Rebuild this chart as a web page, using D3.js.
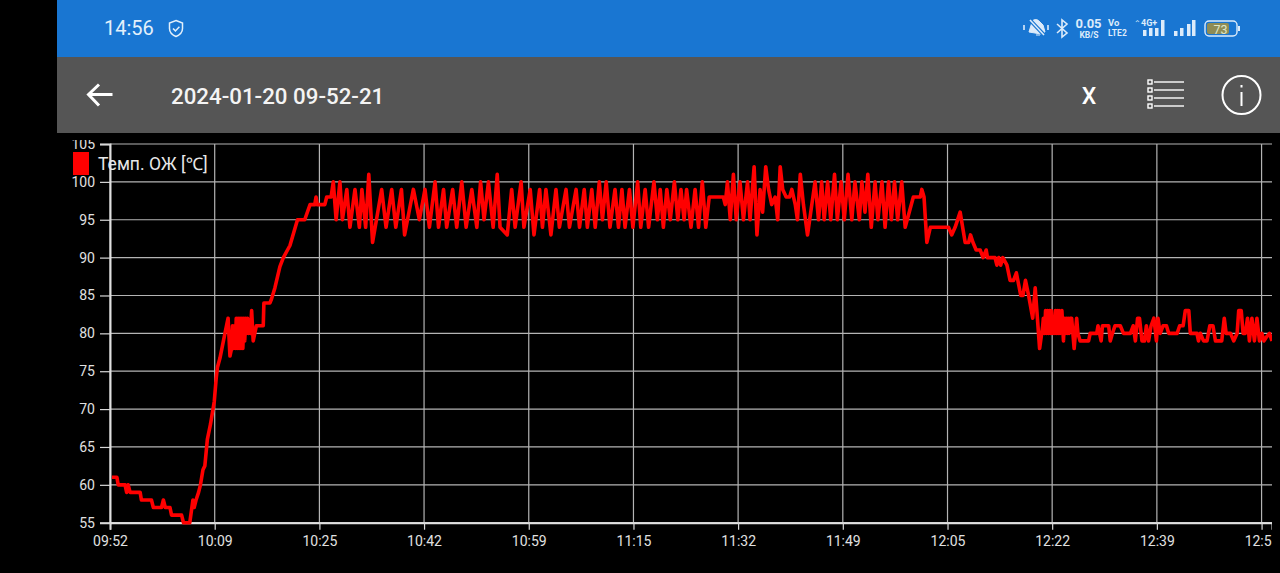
<!DOCTYPE html>
<html><head><meta charset="utf-8">
<script src="https://cdn.jsdelivr.net/npm/d3@7/dist/d3.min.js"></script>
<style>
html,body{margin:0;padding:0;background:#000;overflow:hidden}
svg{display:block}
text{font-family:Roboto,"Noto Sans",sans-serif}
</style></head><body>
<svg id="c" width="1280" height="573"></svg>
<script>
const titleText = "2024-01-20 09-52-21";
const legendLabel = "Темп. ОЖ [℃]";
const xTickLabels = ["09:52","10:09","10:25","10:42","10:59","11:15","11:32","11:49","12:05","12:22","12:39","12:55"];
const xTickMinutes = [0,16.67,33.34,50,66.67,83.34,100,116.67,133.34,150,166.67,183.34];
const yTicks = [55,60,65,70,75,80,85,90,95,100,105];
// [minutes since 09:52, coolant temperature]
const coldStart = [[0.3,61],[1.1,61],[1.3,60],[2.4,60],[2.65,59],[2.9,60],[3.2,59],[4.8,59],[5,58],[6.6,58],[6.9,57],[8.2,57],[8.5,58],[8.8,57],[9.55,57],[9.8,56],[11.4,56],[11.7,55],[12.7,55]];
const warmUp = [[13.2,58],[13.4,57],[13.7,58],[14.1,59],[14.4,60],[14.8,62],[15.1,62.5],[15.5,66],[16,68],[16.6,71],[16.9,74],[17.1,75.5],[17.5,76.7],[18.3,80],[18.8,82],[19.1,77],[19.35,78],[19.5,81],[19.65,78],[19.8,81],[19.95,78],[20.1,82],[20.25,78],[20.4,82],[20.55,78],[20.7,82],[20.85,78],[21,82],[21.15,78],[21.3,82],[21.45,79],[21.6,82],[21.75,80],[21.9,82],[22.05,80],[22.2,81],[22.35,80],[22.55,83],[22.8,79],[23.3,81],[24.4,81],[24.5,84],[25.45,84],[25.7,84.5],[26.25,86],[27.05,88.8],[27.6,90],[28.65,91.6],[29.85,95],[31,95],[31.85,97],[32.6,97],[32.8,98],[33,97],[34.2,97],[34.5,98],[35.2,98]];
const cruiseA = [[35.55,100],[36,95],[36.6,100],[37,95],[37.7,99],[38.2,94],[39,99],[39.7,94],[40.1,99],[40.7,94],[41.2,101],[41.8,92],[43.25,99],[43.95,94],[44.85,99],[45.5,94],[46.4,99],[46.9,93],[48.3,99],[49.25,95],[50.15,99],[50.85,94],[51.75,100],[52.3,94],[53.1,99],[53.6,94],[54.55,99],[55.2,94],[56,100],[56.7,94],[57.6,99],[58.4,94],[59,100],[59.55,95],[60.25,100],[61,94],[61.65,101],[62.1,94],[63.25,93]];
const cruiseB = [[63.95,99],[64.5,94],[65.45,100],[65.9,94],[66.9,99],[67.5,93],[68.4,99],[68.85,94],[69.4,99],[70.2,93],[71,99],[71.55,94],[72.6,99],[73.15,94],[74.2,99],[74.75,94],[75.5,99],[76,94],[76.7,99],[77.25,94],[77.9,100],[78.4,95],[79,100],[79.6,94],[80.4,99],[80.95,94],[81.5,99],[82,94],[82.7,99],[83.25,94],[84,100],[84.5,94],[85.2,99],[85.75,94],[86.6,100],[87.15,95],[87.6,99],[88.1,94],[88.65,99],[89.2,95],[89.85,100],[90.4,95],[90.9,99],[91.4,95],[91.8,99],[92.5,94],[93.15,99],[93.7,94],[94.3,100],[94.85,94],[95.4,98],[97.65,98],[97.95,97]];
const cruiseC = [[98.3,100],[98.75,95],[99.25,101],[99.7,95],[100.3,100],[100.85,95],[101.5,100],[101.9,95],[102.55,102],[103,93],[103.5,99],[103.9,96],[104.4,102],[104.85,99],[105.35,97],[105.9,98],[106.3,95],[106.7,102],[107.1,99],[107.65,98],[108.2,98],[108.55,99],[109.1,97],[109.45,95],[109.9,101],[110.4,97],[111.05,93],[112.25,100],[112.8,95],[113.3,100],[113.7,95],[114.25,100],[114.75,95],[115.35,101],[115.8,95],[116.4,100],[116.9,95],[117.5,101],[118.1,95],[118.6,100],[119.3,95],[119.7,100],[120.2,96],[120.65,101],[121.2,94],[121.8,100],[122.25,95],[122.9,100],[123.4,94],[123.95,100],[124.4,95],[124.9,100],[125.4,95],[126.05,100],[126.6,94]];
const coolDown = [[127.9,98],[129,98],[129.25,99],[129.6,98],[130.05,92],[130.6,94],[133.5,94],[134,93],[134.55,94],[135.35,96],[136.15,92],[136.7,92],[137,93],[137.4,92],[137.9,91],[138.55,91],[139,90],[139.5,91],[139.7,90],[140.9,90],[141.2,89],[141.5,90],[141.8,89],[142.15,90],[142.8,89],[143.3,87],[143.85,87],[144.3,88],[145,85],[145.35,85],[145.75,87],[146.25,85],[146.9,82],[147.3,86],[148,78]];
const idle = [[148.5,81],[148.6,82],[148.8,80],[148.95,83],[149.1,80],[149.25,83],[149.4,80],[149.55,83],[149.7,80],[149.85,83],[150,80],[150.15,82],[150.3,80],[150.5,83],[150.65,80],[150.8,83],[150.95,80],[151.1,83],[151.25,80],[151.55,83],[151.8,79],[151.95,82],[152.1,80],[152.25,82],[152.4,80],[152.55,82],[152.7,80],[152.85,82],[153.1,82],[153.5,78],[153.9,82],[154.1,80],[154.45,79],[155.8,79],[156.05,80],[157.1,80],[157.3,81],[157.8,79],[158,81],[158.5,81],[159,81],[159.25,79],[159.6,80],[160,81],[160.85,81],[161.35,80],[162.45,80],[162.9,81],[163.25,79],[163.6,82],[163.9,82],[164.3,79],[164.7,79],[165,81],[165.35,79],[165.75,81],[166.2,82],[166.6,79],[166.85,82],[167.2,80],[167.65,81],[168.2,81],[168.55,80],[169.9,80],[170.3,81],[170.85,81],[171.2,83],[171.75,83],[172,80],[173.05,80],[173.3,79],[173.6,80],[174.1,79],[174.65,79],[175.1,81],[175.6,81],[176,79],[177,79],[177.4,82],[177.7,80],[178.4,80],[178.9,79],[179.45,80],[179.7,83],[180.1,83],[180.4,80],[180.75,80],[181.1,82],[181.4,79],[181.8,82],[182.2,79],[182.6,82],[183,79],[183.4,80],[183.7,79],[184.1,79.5],[184.6,80],[185,79]];
const series = [].concat(coldStart, warmUp, cruiseA, cruiseB, cruiseC, coolDown, idle);

const svg = d3.select("#c");
// device chrome
svg.append("rect").attr("x",57).attr("y",0).attr("width",1223).attr("height",57).attr("fill","#1976d2");
svg.append("rect").attr("x",57).attr("y",57).attr("width",1223).attr("height",76).attr("fill","#555555");
const txt=(x,y,s,size,opts={})=>svg.append("text").attr("x",x).attr("y",y).text(s).attr("font-size",size)
  .attr("fill",opts.fill||"#fff").attr("font-weight",opts.w||400).attr("text-anchor",opts.a||"start");
txt(104,35,"14:56",20,{fill:"#e3f0fb"});
svg.append("path").attr("d","M176 20.5l6.5 2.5v5.5c0 4-3 6.5-6.5 8c-3.5-1.5-6.5-4-6.5-8v-5.5z M173 28.5l2.4 2.4l4-4.2").attr("fill","none").attr("stroke","#e3f0fb").attr("stroke-width",1.5);
svg.append("path").attr("d","M112.5 94.5H89 M99 84.5L88.5 94.5L99 105.5").attr("fill","none").attr("stroke","#fff").attr("stroke-width",3);
txt(171,103.5,titleText,22.3,{w:500,fill:"#f4f4f4"});
txt(1089,104,"X",23,{a:"middle",w:500});
[82,90,98,106].forEach(yy=>{
  svg.append("rect").attr("x",1148).attr("y",yy-2).attr("width",4).attr("height",4).attr("fill","none").attr("stroke","#fff").attr("stroke-width",1.4);
  svg.append("line").attr("x1",1154).attr("x2",1184).attr("y1",yy).attr("y2",yy).attr("stroke","#fff").attr("stroke-width",1.4);
});
svg.append("circle").attr("cx",1241.5).attr("cy",95).attr("r",19).attr("fill","none").attr("stroke","#fff").attr("stroke-width",2);
svg.append("rect").attr("x",1240.5).attr("y",92).attr("width",2).attr("height",14).attr("fill","#fff");
svg.append("rect").attr("x",1240.5).attr("y",85).attr("width",2).attr("height",2.5).attr("fill","#fff");
// status icons
const ic="#dcebfa";
svg.append("path").attr("d","M1029 32l3-10c1-3 5-3 7-1l4 4l2 7l-4 2z M1036 35h4").attr("fill",ic).attr("stroke",ic).attr("stroke-width",1);
svg.append("path").attr("d","M1029 19l16 17").attr("stroke","#1976d2").attr("stroke-width",4).attr("fill","none");
svg.append("path").attr("d","M1030 20l14 15 M1024 25v5 M1048 25v5").attr("stroke",ic).attr("stroke-width",1.6).attr("fill","none");
svg.append("path").attr("d","M1057 24l10 9l-5 4v-17l5 4l-10 9").attr("stroke",ic).attr("stroke-width",1.6).attr("fill","none");
txt(1088.5,28,"0.05",13,{a:"middle",w:700,fill:ic});
txt(1089,38,"KB/S",8.5,{a:"middle",w:700,fill:ic});
txt(1108,26,"Vo",9.5,{w:700,fill:ic});
txt(1108,36,"LTE",8.5,{w:700,fill:ic});
txt(1122,36,"2",8.5,{w:700,fill:ic});
txt(1141,26,"4G+",9,{w:700,fill:ic});
txt(1134,26,"⌃",8,{fill:ic});
[[1143,30],[1149,28],[1155,28],[1161,20],[1174,31],[1180,28],[1187,24],[1192,20]].forEach(d=>{
  svg.append("rect").attr("x",d[0]).attr("y",d[1]).attr("width",3.5).attr("height",36-d[1]).attr("fill",ic);
});
svg.append("rect").attr("x",1205).attr("y",21).attr("width",32).attr("height",15).attr("rx",4).attr("fill","none").attr("stroke",ic).attr("stroke-width",1.4);
svg.append("rect").attr("x",1207).attr("y",23).attr("width",22).attr("height",11).attr("rx",2).attr("fill","#8f8c55");
svg.append("rect").attr("x",1238).attr("y",26).attr("width",2).attr("height",5).attr("fill",ic);
txt(1220.5,33.5,"73",12.5,{a:"middle",fill:"#dfe6c8"});

// chart
const plotLeft=110,plotRight=1272,plotBottom=522.7,plotTop=144;
const x=d3.scaleLinear().domain([0,185]).range([plotLeft,plotRight]);
const y=d3.scaleLinear().domain([55,105]).range([plotBottom,plotTop]);
const defs=svg.append("defs");
defs.append("clipPath").attr("id","chartClip").append("rect").attr("x",0).attr("y",140).attr("width",1272).attr("height",433);
const g=svg.append("g").attr("clip-path","url(#chartClip)");

g.append("g").selectAll("line").data(xTickMinutes).join("line")
  .attr("x1",d=>x(d)).attr("x2",d=>x(d)).attr("y1",plotTop).attr("y2",plotBottom).attr("stroke","#b4b4b4").attr("stroke-width",1.2);
g.append("g").selectAll("line").data(yTicks).join("line")
  .attr("x1",plotLeft).attr("x2",plotRight).attr("y1",d=>y(d)).attr("y2",d=>y(d)).attr("stroke","#b4b4b4").attr("stroke-width",1.2);

const yAxis=d3.axisLeft(y).tickValues(yTicks).tickSize(10).tickPadding(5);
const yG=g.append("g").attr("transform",`translate(${plotLeft},0)`).call(yAxis);
const xAxis=d3.axisBottom(x).tickValues(xTickMinutes).tickFormat((d,i)=>xTickLabels[i]).tickSize(7).tickPadding(6);
const xG=g.append("g").attr("transform",`translate(0,${plotBottom})`).call(xAxis);
[yG,xG].forEach(a=>{
  a.selectAll("text").attr("fill","#e0e0e0").attr("font-size",14).attr("font-family","Roboto,sans-serif");
  a.selectAll("line").attr("stroke","#d8d8d8").attr("stroke-width",1.2);
  a.select(".domain").attr("stroke","#e0e0e0").attr("stroke-width",2);
});

g.append("path").datum(series)
  .attr("d",d3.line().x(d=>x(d[0])).y(d=>y(d[1])))
  .attr("fill","none").attr("stroke","#ff0000").attr("stroke-width",3.6).attr("stroke-linejoin","round");

g.append("rect").attr("x",73).attr("y",152).attr("width",16).attr("height",23).attr("fill","#ff0000");
g.append("text").attr("x",98).attr("y",170).text(legendLabel).attr("font-size",17.5).attr("fill","#e8e8e8");
</script>
</body></html>
